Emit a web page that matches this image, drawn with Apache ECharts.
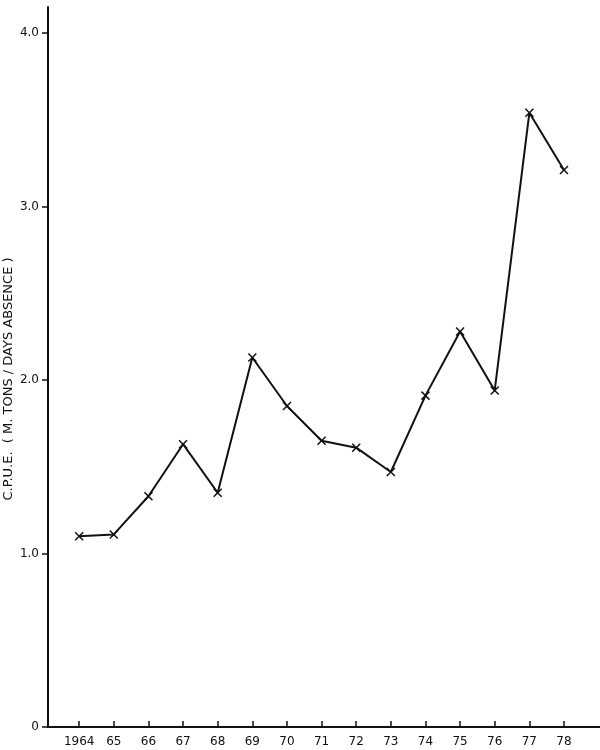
<!DOCTYPE html>
<html>
<head>
<meta charset="utf-8">
<script src="https://cdn.jsdelivr.net/npm/echarts@6/dist/echarts.min.js"></script>
<style>
  html, body { margin: 0; padding: 0; background: #fff; }
  #chart { width: 600px; height: 750px; }
</style>
</head>
<body>
<div id="chart"></div>
<script>
// data
var years = [1964, 1965, 1966, 1967, 1968, 1969, 1970, 1971, 1972, 1973, 1974, 1975, 1976, 1977, 1978];
var cpue = [1.10, 1.11, 1.33, 1.63, 1.35, 2.13, 1.85, 1.65, 1.61, 1.47, 1.91, 2.28, 1.94, 3.54, 3.21];
var yTicks = [0, 1, 2, 3, 4];

var points = years.map(function (y, i) { return [y, cpue[i]]; });

var myChart = echarts.init(document.getElementById('chart'));
var ink = '#111';

var option = {
  animation: false,
  backgroundColor: '#fff',
  grid: { left: 48, right: 0, top: 7, bottom: 23, outerBoundsMode: 'none' },
  xAxis: {
    type: 'value',
    min: 1963.1,
    max: 1979.04,
    splitLine: { show: false },
    axisLine: { lineStyle: { color: ink, width: 2 } },
    axisTick: {
      inside: true,
      length: 6,
      customValues: years,
      lineStyle: { color: ink, width: 1.5 }
    },
    axisLabel: {
      customValues: years,
      margin: 9,
      color: ink,
      fontSize: 12,
      fontFamily: 'DejaVu Sans',
      formatter: function (v) {
        return v === 1964 ? '1964' : String(v).slice(2);
      }
    }
  },
  yAxis: {
    type: 'value',
    min: 0,
    max: 4.15,
    splitLine: { show: false },
    axisLine: { lineStyle: { color: ink, width: 2 } },
    axisTick: {
      length: 6,
      customValues: yTicks,
      lineStyle: { color: ink, width: 1.5 }
    },
    axisLabel: {
      customValues: yTicks,
      margin: 9,
      color: ink,
      fontSize: 12,
      fontFamily: 'DejaVu Sans',
      formatter: function (v) { return v === 0 ? '0' : v.toFixed(1); }
    },
    name: 'C.P.U.E.  ( M. TONS / DAYS ABSENCE )',
    nameLocation: 'middle',
    nameGap: 33,
    nameMoveOverlap: false,
    nameRotate: 90,
    nameTextStyle: { color: ink, fontSize: 13, fontFamily: 'DejaVu Sans', padding: [0, 24, 0, 0] }
  },
  series: [{
    type: 'line',
    data: points,
    symbol: 'path://M0,0L10,10M10,0L0,10',
    symbolSize: 8,
    showAllSymbol: true,
    lineStyle: { color: ink, width: 2 },
    itemStyle: { color: ink, borderColor: ink, borderWidth: 1.5 },
    emphasis: { disabled: true }
  }]
};

myChart.setOption(option);
</script>
</body>
</html>
